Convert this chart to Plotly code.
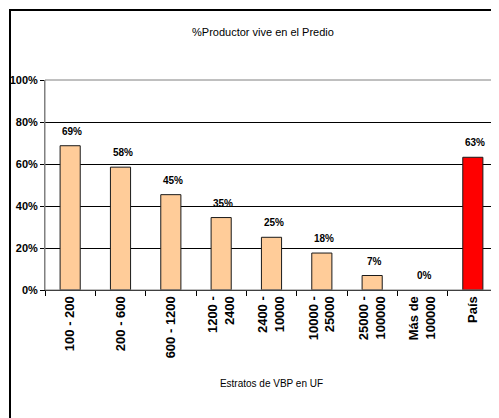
import plotly.graph_objects as go

categories = ["100 - 200", "200 - 600", "600 - 1200", "1200 -<br>2400", "2400 -<br>10000",
              "10000 -<br>25000", "25000 -<br>100000", "Más de<br>100000", "País"]
values = [0.687, 0.585, 0.454, 0.345, 0.251, 0.176, 0.069, 0.0, 0.632]
labels = ["69%", "58%", "45%", "35%", "25%", "18%", "7%", "0%", "63%"]
bar_colors = ["#FFCC99"] * 8 + ["#FF0000"]

FONT = "Liberation Sans, Arial, sans-serif"

# the page body adds an 8px margin, so the figure is drawn 8px smaller
W, H = 491, 410
L, T, R, B = 37, 72, 1, 128
plot_w = W - L - R
plot_h = H - T - B

fig = go.Figure(go.Bar(
    x=categories, y=values,
    marker=dict(color=bar_colors,
                line=dict(color="#1a1a1a", width=[1 if v > 0 else 0 for v in values])),
    width=0.4,
    hoverinfo="skip",
))

for cat, val, lab in zip(categories, values, labels):
    fig.add_annotation(
        x=cat, y=val, text=lab, showarrow=False,
        yanchor="bottom", yshift=7, xshift=2,
        font=dict(family=FONT, size=10, color="black", weight="bold"),
    )

# plot area frame (grey) and outer chart border
fig.add_shape(type="rect", xref="paper", yref="paper", x0=0, x1=1, y0=0, y1=1,
              line=dict(color="#808080", width=1), layer="above")
fig.add_shape(type="rect", xref="paper", yref="paper",
              x0=(2 - L) / plot_w, x1=1.2, y0=-0.8, y1=(plot_h + T - 2) / plot_h,
              line=dict(color="black", width=2))

fig.update_layout(
    width=W, height=H,
    margin=dict(l=L, r=R, t=T, b=B),
    paper_bgcolor="white", plot_bgcolor="white",
    showlegend=False,
    title=dict(text="%Productor vive en el Predio", x=255 / W, xanchor="center",
               y=1 - 24 / H, yanchor="middle",
               font=dict(family=FONT, size=11, color="black")),
    xaxis=dict(
        type="category", tickangle=-90,
        tickfont=dict(family=FONT, size=13, color="black", weight="bold"),
        showline=True, linecolor="black", linewidth=1,
        ticks="outside", tickson="boundaries", ticklen=5, tickcolor="black",
        title=dict(text="Estratos de VBP en UF", standoff=22,
                   font=dict(family=FONT, size=10, color="black")),
        showgrid=False,
    ),
    yaxis=dict(
        range=[0, 1], dtick=0.2, tickformat=".0%",
        tickfont=dict(family=FONT, size=11, color="black", weight="bold"),
        showgrid=True, gridcolor="black", gridwidth=1,
        ticks="outside", ticklen=4, tickcolor="black",
        showline=True, linecolor="#808080", linewidth=1,
        zeroline=False,
    ),
)

fig.write_html("out.html")
